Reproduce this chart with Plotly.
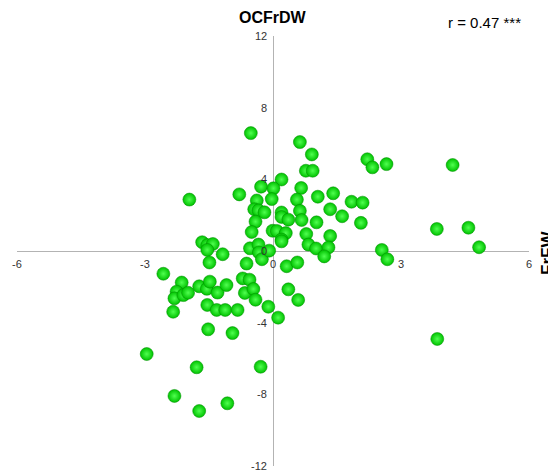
import plotly.graph_objects as go

# Data (x = OCFrDW-axis horizontal, y = FrFW vertical)
x_vals = [-0.52, 0.63, 0.91, 2.21, 2.33, 2.66, 4.21, 0.77, 0.93, 0.20,
          -0.28, 0.01, 0.66, -1.96, -0.79, -0.38, -0.03, 0.56, 1.05, 1.41,
          1.84, 2.10, -0.44, -0.34, -0.20, 0.20, 0.20, 0.63, 1.34, 1.62,
          -0.41, 0.36, 0.67, 1.02, 2.06, 3.84, 4.58, -0.50, -0.01, 0.09,
          0.30, 0.78, 1.34, 0.20, 4.83, -1.66, -1.54, -1.41, -1.54, -1.18,
          -1.49, -0.54, -0.34, -0.33, -0.26, -0.09, -0.62, 0.20, 0.83, 1.01,
          1.30, 1.20, 2.55, 2.68, 0.32, 0.57, -2.57, -2.14, -2.26, -2.31,
          -2.10, -1.99, -2.34, -1.73, -1.55, -1.48, -1.30, -1.09, -0.71, -0.55,
          -0.66, -0.46, -0.41, -1.54, -1.32, -1.12, -0.83, -0.11, 0.12, 0.36,
          0.59, -1.52, -0.95, -2.96, -1.79, -0.29, -2.31, -1.07, -1.73, 3.85]
y_vals = [6.58, 6.08, 5.39, 5.12, 4.67, 4.85, 4.80, 4.48, 4.48, 3.99,
          3.59, 3.50, 3.52, 2.87, 3.16, 2.82, 2.90, 2.87, 3.03, 3.22,
          2.75, 2.70, 2.33, 2.27, 2.16, 2.15, 1.90, 2.24, 2.33, 1.94,
          1.64, 1.75, 1.73, 1.60, 1.57, 1.23, 1.30, 1.06, 1.13, 1.12,
          1.00, 0.95, 0.84, 0.64, 0.21, 0.49, 0.33, 0.39, 0.06, -0.18,
          -0.64, 0.15, 0.36, -0.08, -0.46, 0.02, -0.70, 0.54, 0.36, 0.14,
          0.20, -0.30, 0.06, -0.46, -0.85, -0.64, -1.27, -1.76, -2.27, -2.64,
          -2.46, -2.33, -3.39, -1.97, -2.11, -1.71, -2.32, -1.90, -1.53, -1.60,
          -2.34, -2.12, -2.72, -3.01, -3.29, -3.29, -3.29, -3.11, -3.72, -2.14,
          -2.73, -4.37, -4.58, -5.75, -6.49, -6.46, -8.09, -8.50, -8.93, -4.91]

x_ticks = [-6, -3, 0, 3, 6]
y_ticks = [-12, -8, -4, 0, 4, 8, 12]
x_title = "FrFW"
y_title = "OCFrDW"
r_text = "r = 0.47 ***"

fig = go.Figure()
fig.add_trace(go.Scatter(
    x=x_vals, y=y_vals, mode="markers",
    marker=dict(size=13, color="#00c200",
                gradient=dict(type="radial", color="#50ff50"),
                line=dict(width=0.5, color="#008c00")),
    hoverinfo="x+y", showlegend=False,
))

annotations = []
tick_font = dict(family="Liberation Sans, Arial, sans-serif", size=11, color="#333333")
for t in x_ticks:
    annotations.append(dict(x=t, y=0, xref="x", yref="y", text=str(t), showarrow=False,
                            xanchor="center", yanchor="middle", yshift=-13, font=tick_font))
for t in y_ticks:
    annotations.append(dict(x=0, y=t, xref="x", yref="y", text=str(t), showarrow=False,
                            xanchor="right", yanchor="middle", xshift=-4, font=tick_font))

annotations.append(dict(x=0, y=1.0, xref="x", yref="paper", text="<b>" + y_title + "</b>",
                        showarrow=False, xanchor="center", yanchor="bottom", yshift=8,
                        font=dict(family="Liberation Sans, Arial, sans-serif", size=16, color="#000000")))
annotations.append(dict(x=0.988, y=1.0, xref="paper", yref="paper", text=r_text,
                        showarrow=False, xanchor="right", yanchor="bottom", yshift=3,
                        font=dict(family="Liberation Sans, Arial, sans-serif", size=15, color="#000000")))
annotations.append(dict(x=1.0, y=0, xref="paper", yref="y", text="<b>" + x_title + "</b>",
                        showarrow=False, textangle=-90, xanchor="center", yanchor="middle", xshift=18,
                        yshift=-2,
                        font=dict(family="Liberation Sans, Arial, sans-serif", size=17, color="#000000")))

axis_common = dict(showgrid=False, showticklabels=False, ticks="", showline=False,
                   zeroline=True, zerolinecolor="#b3b3b3", zerolinewidth=1, fixedrange=True)

fig.update_layout(
    width=548, height=465,
    margin=dict(l=9, r=27, t=28, b=7),
    paper_bgcolor="white", plot_bgcolor="white",
    xaxis=dict(range=[-6, 6], **axis_common),
    yaxis=dict(range=[-12, 12], **axis_common),
    annotations=annotations,
)

fig.write_html("out.html")
